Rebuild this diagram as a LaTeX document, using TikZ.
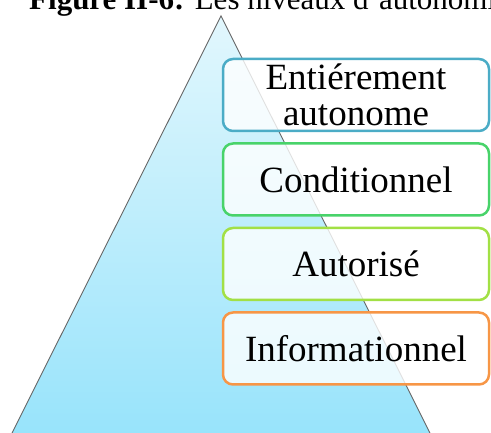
\documentclass[tikz,border=0pt]{standalone}
\usepackage{fontspec}
\setmainfont{Liberation Serif}
\usetikzlibrary{positioning}

\definecolor{pyrtop}{HTML}{E2F7FD}
\definecolor{pyrbot}{HTML}{96E3FB}
\definecolor{lvlblue}{HTML}{4BACC6}
\definecolor{lvlgreen}{HTML}{48D36A}
\definecolor{lvllime}{HTML}{A2E045}
\definecolor{lvlorange}{HTML}{F79646}

\begin{document}
\begin{tikzpicture}[
  x=1pt, y=1pt,
  node distance=10pt,
  level/.style={draw, rectangle, rounded corners=10pt, line width=2.5pt, fill=white, fill opacity=0.8, text opacity=1, minimum width=266pt, minimum height=72pt, align=center, font=\fontsize{37}{36}\selectfont},
  pyramid/.style={top color=pyrtop, bottom color=pyrbot, draw=black!60, line width=0.9pt}
]

\useasboundingbox (0,0) rectangle (491,433);

% caption, cut by the page edge
\node[anchor=base west, inner sep=0pt, font=\fontsize{31}{31}\selectfont] (caption) at (29,423) {\textbf{Figure II-6:} Les niveaux d’autonomie};

% pyramid
\coordinate (apex) at (221,417);
\coordinate (baseL) at (6,-12);
\coordinate (baseR) at (436,-12);
\draw[pyramid] (apex) -- (baseR) -- (baseL) -- cycle;

% levels, top to bottom
\node[level, draw=lvlblue] (full) at (356,338) {Entiérement\\autonome};
\node[level, draw=lvlgreen, below=of full] (cond) {Conditionnel};
\node[level, draw=lvllime, below=of cond] (auth) {Autorisé};
\node[level, draw=lvlorange, below=of auth] (info) {Informationnel};

\end{tikzpicture}
\end{document}
